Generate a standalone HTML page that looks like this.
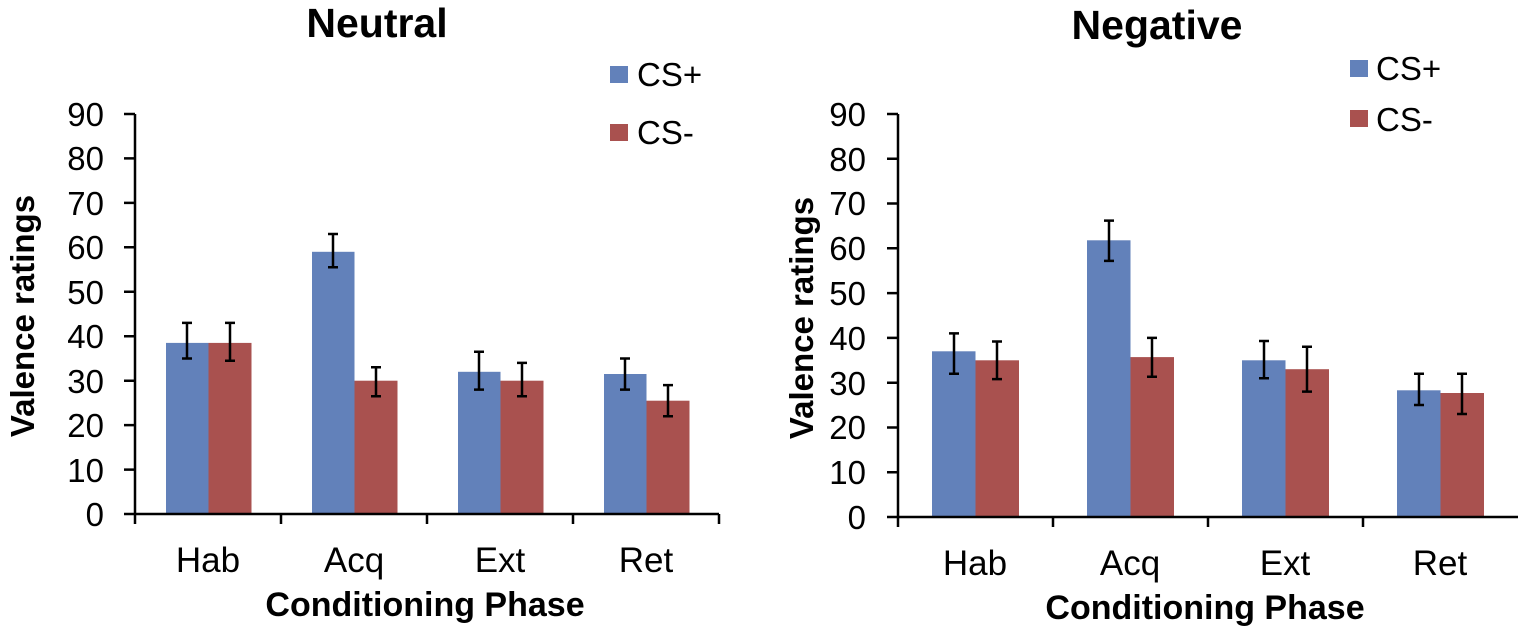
<!DOCTYPE html>
<html><head><meta charset="utf-8"><style>body{margin:0;background:#fff}svg{display:block}text{font-family:"Liberation Sans",Arial,sans-serif;fill:#000}</style></head><body>
<svg width="1524" height="630" viewBox="0 0 1524 630" xmlns="http://www.w3.org/2000/svg">
<g font-size="41" font-weight="bold" text-anchor="middle">
<text x="377" y="37">Neutral</text>
<text x="1157" y="39">Negative</text>
</g>
<!-- LEFT -->
<g fill="#6281ba">
<rect x="166" y="342.9" width="42.5" height="171.1"/>
<rect x="312" y="251.8" width="42.5" height="262.2"/>
<rect x="458" y="371.8" width="42.5" height="142.2"/>
<rect x="604" y="374" width="42.5" height="140"/>
</g>
<g fill="#a9514f">
<rect x="208.5" y="342.9" width="43" height="171.1"/>
<rect x="354.5" y="380.7" width="43" height="133.3"/>
<rect x="500.5" y="380.7" width="43" height="133.3"/>
<rect x="646.5" y="400.7" width="43" height="113.3"/>
</g>
<g stroke="#000" stroke-width="2.5" fill="none">
<path d="M187 358.5V322.9M182 358.5h10M182 322.9h10"/>
<path d="M230 360.7V322.9M225 360.7h10M225 322.9h10"/>
<path d="M333 267.3V234M328 267.3h10M328 234h10"/>
<path d="M376 396.2V367.3M371 396.2h10M371 367.3h10"/>
<path d="M479 389.6V351.8M474 389.6h10M474 351.8h10"/>
<path d="M522 396.2V362.9M517 396.2h10M517 362.9h10"/>
<path d="M625 389.6V358.5M620 389.6h10M620 358.5h10"/>
<path d="M668 416.2V385.1M663 416.2h10M663 385.1h10"/>
</g>
<g stroke="#000" stroke-width="2.5">
<path d="M135 114V524M124 514H719"/>
<path d="M124 114h11M124 158.4h11M124 202.9h11M124 247.3h11M124 291.8h11M124 336.2h11M124 380.7h11M124 425.1h11M124 469.6h11"/>
<path d="M281 514v10M427 514v10M573 514v10M719 514v10"/>
</g>
<g font-size="33" text-anchor="end">
<text x="104" y="126">90</text><text x="104" y="170">80</text><text x="104" y="215">70</text><text x="104" y="259">60</text><text x="104" y="304">50</text><text x="104" y="348">40</text><text x="104" y="393">30</text><text x="104" y="437">20</text><text x="104" y="482">10</text><text x="104" y="526">0</text>
</g>
<g font-size="35" text-anchor="middle">
<text x="208" y="572">Hab</text><text x="354" y="572">Acq</text><text x="500" y="572">Ext</text><text x="646" y="572">Ret</text>
</g>
<text x="425" y="616" font-size="34" font-weight="bold" text-anchor="middle">Conditioning  Phase</text>
<text transform="translate(34,316) rotate(-90)" font-size="33" font-weight="bold" text-anchor="middle">Valence ratings</text>
<rect x="610" y="66" width="18" height="17" fill="#6281ba"/>
<rect x="610" y="124" width="18" height="17" fill="#a9514f"/>
<text x="637" y="86" font-size="33">CS+</text>
<text x="637" y="144" font-size="33">CS-</text>
<!-- RIGHT -->
<g fill="#6281ba">
<rect x="932" y="351.3" width="43.5" height="165.7"/>
<rect x="1087" y="240.3" width="43.5" height="276.7"/>
<rect x="1242" y="360.3" width="43.5" height="156.7"/>
<rect x="1397" y="390.3" width="43.5" height="126.7"/>
</g>
<g fill="#a9514f">
<rect x="975.5" y="360.3" width="43.5" height="156.7"/>
<rect x="1130.5" y="357.1" width="43.5" height="159.9"/>
<rect x="1285.5" y="369.2" width="43.5" height="147.8"/>
<rect x="1440.5" y="393" width="43.5" height="124"/>
</g>
<g stroke="#000" stroke-width="2.5" fill="none">
<path d="M954 373.7V333.4M949 373.7h10M949 333.4h10"/>
<path d="M997 379.1V341.5M992 379.1h10M992 341.5h10"/>
<path d="M1109 260.9V220.6M1104 260.9h10M1104 220.6h10"/>
<path d="M1152 376.8V337.9M1147 376.8h10M1147 337.9h10"/>
<path d="M1264 378.2V341M1259 378.2h10M1259 341h10"/>
<path d="M1307 391.6V346.8M1302 391.6h10M1302 346.8h10"/>
<path d="M1419 405V373.7M1414 405h10M1414 373.7h10"/>
<path d="M1462 414V373.7M1457 414h10M1457 373.7h10"/>
</g>
<g stroke="#000" stroke-width="2.5">
<path d="M898 114V527M887 517H1518"/>
<path d="M887 114h11M887 158.8h11M887 203.5h11M887 248.3h11M887 293.1h11M887 337.9h11M887 382.7h11M887 427.5h11M887 472.2h11"/>
<path d="M1053 517v10M1208 517v10M1363 517v10"/>
</g>
<g font-size="33" text-anchor="end">
<text x="866" y="126">90</text><text x="866" y="171">80</text><text x="866" y="215">70</text><text x="866" y="260">60</text><text x="866" y="305">50</text><text x="866" y="350">40</text><text x="866" y="395">30</text><text x="866" y="439">20</text><text x="866" y="484">10</text><text x="866" y="529">0</text>
</g>
<g font-size="35" text-anchor="middle">
<text x="975" y="575">Hab</text><text x="1130" y="575">Acq</text><text x="1285" y="575">Ext</text><text x="1440" y="575">Ret</text>
</g>
<text x="1205" y="619" font-size="34" font-weight="bold" text-anchor="middle">Conditioning  Phase</text>
<text transform="translate(813,318) rotate(-90)" font-size="33" font-weight="bold" text-anchor="middle">Valence ratings</text>
<rect x="1350" y="60" width="18" height="17" fill="#6281ba"/>
<rect x="1350" y="110" width="18" height="17" fill="#a9514f"/>
<text x="1376" y="80" font-size="33">CS+</text>
<text x="1376" y="131" font-size="33">CS-</text>
</svg>
</body></html>
